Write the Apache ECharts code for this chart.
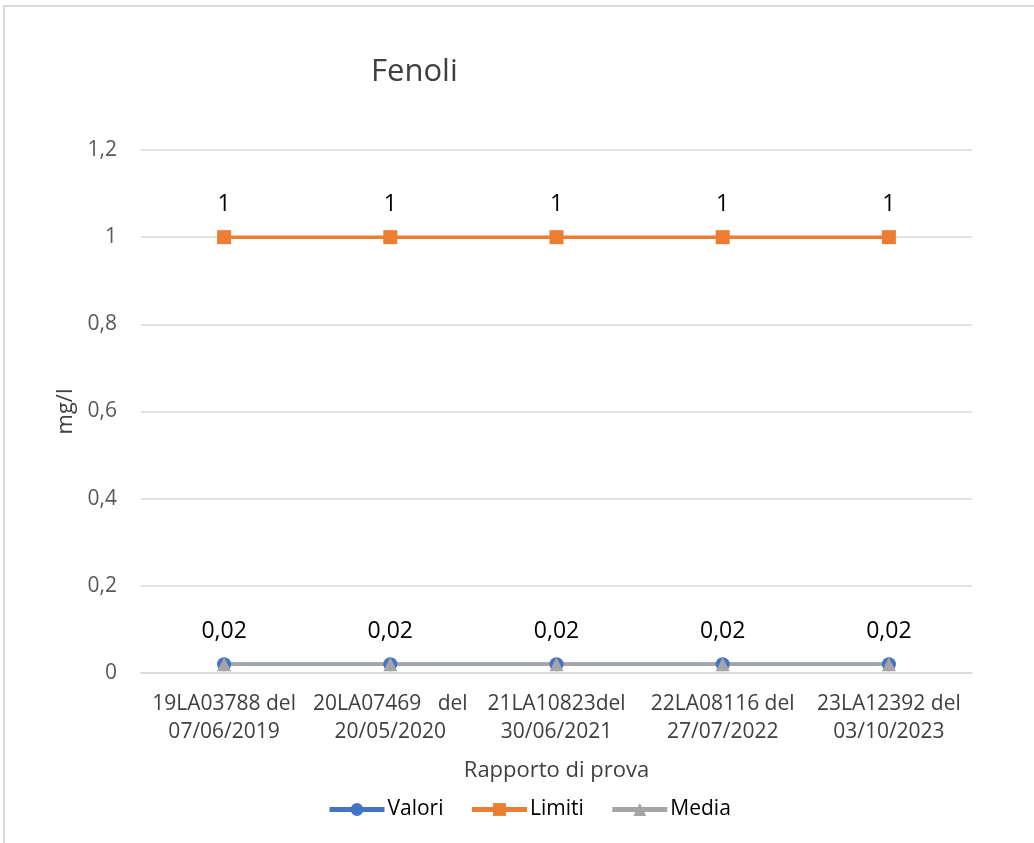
<!DOCTYPE html>
<html>
<head>
<meta charset="utf-8">
<script src="https://cdn.jsdelivr.net/npm/echarts@6/dist/echarts.min.js"></script>
<style>
  html, body { margin: 0; padding: 0; background: #fff; }
  #chart { width: 1034px; height: 843px; }
</style>
</head>
<body>
<div id="chart"></div>
<script>
var chartDom = document.getElementById('chart');
var myChart = echarts.init(chartDom);

// dati
var categorie = [
    '19LA03788 del\n07/06/2019',
    '20LA07469   del\n20/05/2020',
    '21LA10823del\n30/06/2021',
    '22LA08116 del\n27/07/2022',
    '23LA12392 del\n03/10/2023'
];
var valori = [0.02, 0.02, 0.02, 0.02, 0.02];
var limiti = [1, 1, 1, 1, 1];
var media = [0.02, 0.02, 0.02, 0.02, 0.02];

var fontBase = '"Open Sans", "Noto Sans", sans-serif';

// numeri con la virgola
function virgola(v) {
    return String(parseFloat(Number(v).toFixed(2))).replace('.', ',');
}

var option = {
    animation: false,
    textStyle: { fontFamily: fontBase },
    graphic: [{
        type: 'rect',
        shape: { x: 4, y: 6, width: 2000, height: 2000 },
        style: { fill: 'none', stroke: '#d9d9d9', lineWidth: 2 },
        silent: true
    }],
    title: {
        text: 'Fenoli',
        left: 366,
        top: 52,
        textStyle: { fontSize: 31, fontWeight: 'normal', color: '#404040', fontFamily: fontBase }
    },
    legend: {
        top: 794,
        left: 322,
        itemWidth: 55,
        itemHeight: 16,
        itemGap: 26,
        lineStyle: { width: 5 },
        textStyle: { fontSize: 21, color: '#000', fontFamily: fontBase, padding: [0, 0, 0, -2] },
        data: ['Valori', 'Limiti', 'Media']
    },
    grid: {
        left: 141,
        right: 62,
        top: 150,
        bottom: 170,
        containLabel: false
    },
    xAxis: {
        type: 'category',
        data: categorie,
        name: 'Rapporto di prova',
        nameLocation: 'middle',
        nameGap: 87,
        nameTextStyle: { fontSize: 22, color: '#404040' },
        axisLine: { lineStyle: { color: '#d9d9d9', width: 1.5 } },
        axisTick: { show: false },
        axisLabel: {
            fontSize: 21,
            color: '#404040',
            lineHeight: 28,
            margin: 17,
            interval: 0
        }
    },
    yAxis: {
        type: 'value',
        min: 0,
        max: 1.2,
        interval: 0.2,
        name: 'mg/l',
        nameLocation: 'middle',
        nameGap: 61,
        nameRotate: 90,
        nameTextStyle: { fontSize: 22, color: '#404040' },
        axisLine: { show: false },
        axisTick: { show: false },
        axisLabel: {
            fontSize: 21,
            color: '#595959',
            margin: 24,
            formatter: function (v) { return virgola(v); }
        },
        splitLine: { lineStyle: { color: '#d9d9d9', width: 1.5 } }
    },
    series: [
        {
            name: 'Valori',
            type: 'line',
            data: valori,
            symbol: 'circle',
            symbolSize: 14,
            itemStyle: { color: '#4472C4' },
            lineStyle: { color: '#4472C4', width: 3.5 },
            label: {
                show: true,
                position: 'top',
                distance: 14,
                fontSize: 23,
                color: '#000',
                formatter: function (p) { return virgola(p.value); }
            }
        },
        {
            name: 'Limiti',
            type: 'line',
            data: limiti,
            symbol: 'rect',
            symbolSize: 14,
            itemStyle: { color: '#ED7D31' },
            lineStyle: { color: '#ED7D31', width: 3.5 },
            label: {
                show: true,
                position: 'top',
                distance: 14,
                fontSize: 23,
                color: '#000',
                formatter: function (p) { return virgola(p.value); }
            }
        },
        {
            name: 'Media',
            type: 'line',
            data: media,
            symbol: 'triangle',
            symbolSize: 14,
            itemStyle: { color: '#A5A5A5' },
            lineStyle: { color: '#A5A5A5', width: 3.5 }
        }
    ]
};

myChart.setOption(option);
window.addEventListener('resize', function () {
    myChart.resize();
});
</script>
</body>
</html>
